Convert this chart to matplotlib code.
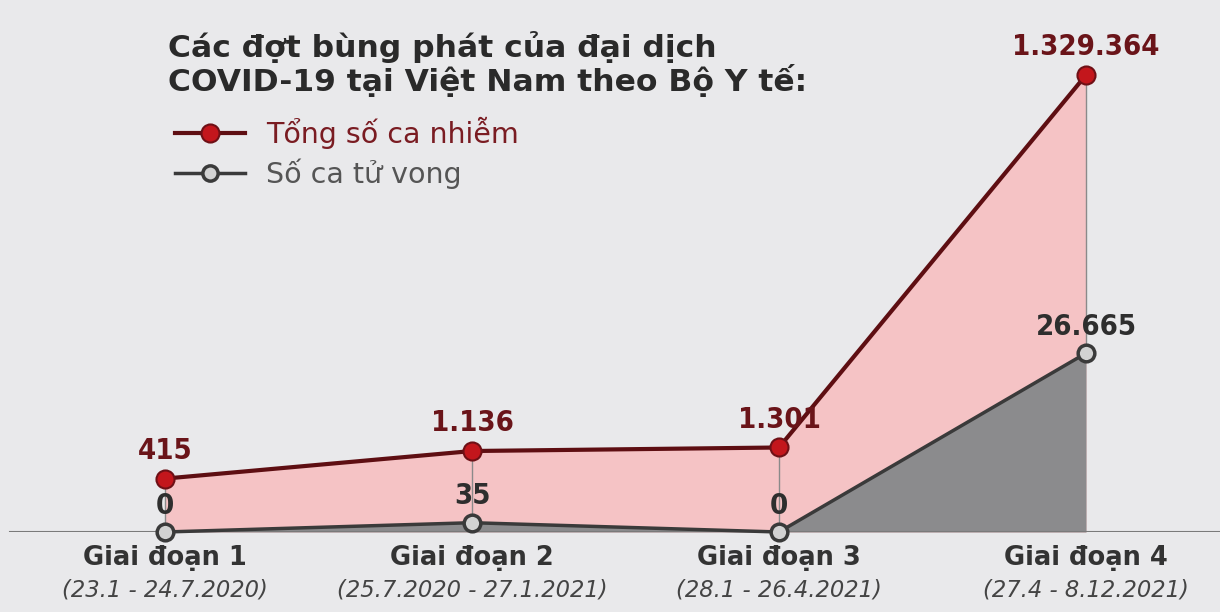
import numpy as np
import matplotlib
matplotlib.use("Agg")
import matplotlib.pyplot as plt
from matplotlib.lines import Line2D

# data from the infographic
giai_doan = ["Giai đoạn 1", "Giai đoạn 2", "Giai đoạn 3", "Giai đoạn 4"]
thoi_gian = ["(23.1 - 24.7.2020)", "(25.7.2020 - 27.1.2021)",
             "(28.1 - 26.4.2021)", "(27.4 - 8.12.2021)"]
ca_nhiem = [415, 1136, 1301, 1329364]
tu_vong = [0, 35, 0, 26665]


def fmt(v):
    # vietnamese thousands separator
    return f"{v:,}".replace(",", ".")


# the original is not drawn to scale, it squeezes big numbers
def fwd(v):
    v = np.clip(np.asarray(v, dtype=float), 0, None)
    return v ** 0.24 * (1 - np.exp(-(v / 200.0) ** 0.7))

grid = np.concatenate([[0], np.logspace(-3, 9, 20000)])
fgrid = fwd(grid)

def inv(f):
    return np.interp(f, fgrid, grid)


bg = "#e9e9eb"
fig = plt.figure(figsize=(12.2, 6.12), dpi=100, facecolor=bg)
ax = fig.add_axes([0, 80 / 612, 1, 532 / 612])
ax.set_facecolor(bg)
ax.set_yscale("function", functions=(fwd, inv))

x = np.arange(len(ca_nhiem))
ax.set_xlim(-165 / 307, 3 + 134 / 307)
top_f = fwd(1329364) * 532 / 457
ax.set_ylim(0, inv(top_f))

# areas
ax.fill_between(x, ca_nhiem, 0, color="#f5c3c5", lw=0, zorder=1)
ax.fill_between(x, tu_vong, 0, color="#8b8b8d", lw=0, zorder=2)
ax.vlines(x, tu_vong, ca_nhiem, color="#8a8a8a", lw=1, zorder=2)
ax.axhline(0, xmin=10 / 1220, color="#7a7a7a", lw=1.5, zorder=3)

ax.plot(x, tu_vong, color="#3a3a3a", lw=2.5, zorder=4, clip_on=False,
        marker="o", ms=12, mfc="#d2d2d2", mec="#3a3a3a", mew=2.5)
ax.plot(x, ca_nhiem, color="#5e0e12", lw=3, zorder=5, clip_on=False,
        marker="o", ms=13, mfc="#c3161c", mec="#6e1016", mew=1.5)

for i in range(len(x)):
    ax.annotate(fmt(ca_nhiem[i]), (x[i], ca_nhiem[i]), xytext=(0, 20),
                textcoords="offset points", ha="center", va="center",
                fontsize=21, fontweight="bold", fontstretch="condensed",
                color="#6a1419", zorder=6, annotation_clip=False)
    ax.annotate(fmt(tu_vong[i]), (x[i], tu_vong[i]), xytext=(0, 19),
                textcoords="offset points", ha="center", va="center",
                fontsize=21, fontweight="bold", fontstretch="condensed",
                color="#2e2e2e", zorder=6, annotation_clip=False)
    ax.annotate(giai_doan[i], (x[i], 0), xytext=(0, -18.7),
                textcoords="offset points", ha="center", va="center",
                fontsize=18.5, fontweight="bold", color="#333333",
                annotation_clip=False)
    ax.annotate(thoi_gian[i], (x[i], 0), xytext=(0, -41.5),
                textcoords="offset points", ha="center", va="center",
                fontsize=16.3, style="italic", color="#444444",
                annotation_clip=False)

for s in ax.spines.values():
    s.set_visible(False)
ax.set_xticks([])
ax.set_yticks([])
ax.yaxis.set_minor_locator(matplotlib.ticker.NullLocator())

fig.text(168 / 1220, 1 - 31 / 612,
         "Các đợt bùng phát của đại dịch\nCOVID-19 tại Việt Nam theo Bộ Y tế:",
         ha="left", va="top", fontsize=22.6, fontweight="bold",
         color="#2a2a2a", linespacing=1.02)

handles = [
    Line2D([], [], color="#5e0e12", lw=3, marker="o", ms=13,
           mfc="#c3161c", mec="#6e1016", mew=1.5),
    Line2D([], [], color="#3a3a3a", lw=2.5, marker="o", ms=11,
           mfc="#d2d2d2", mec="#3a3a3a", mew=2.5),
]
leg = fig.legend(handles, ["Tổng số ca nhiễm", "Số ca tử vong"],
                 loc="upper left", bbox_to_anchor=(175 / 1220, 1 - 117 / 612),
                 frameon=False, fontsize=20.5, handlelength=2.45,
                 handletextpad=0.75, labelspacing=0.32, numpoints=1,
                 borderaxespad=0, borderpad=0)
leg.get_texts()[0].set_color("#7a1c22")
leg.get_texts()[1].set_color("#555555")

fig.savefig("out.png", dpi=100, facecolor=bg)
